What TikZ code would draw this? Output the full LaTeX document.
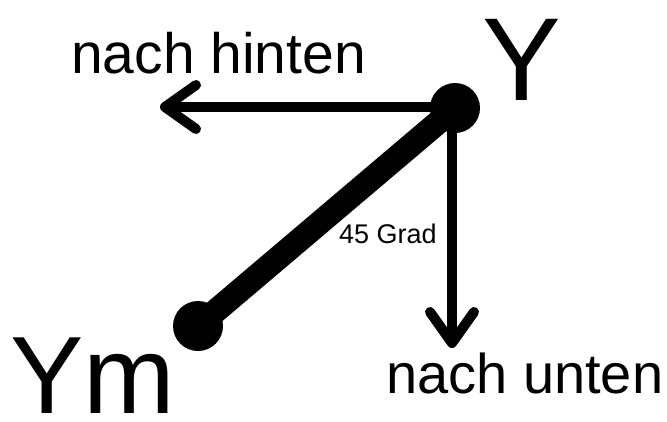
\documentclass[tikz,border=0pt]{standalone}
\usepackage{fontspec}
\setmainfont{Liberation Sans}
\usetikzlibrary{arrows.meta}

\begin{document}
\begin{tikzpicture}[
    x=1pt, y=-1pt,
    % dots at the two ends of the bar
    joint/.style={circle, fill=black, inner sep=0pt, minimum size=50pt},
    bar/.style={line width=24pt},
    dirarrow/.style={line width=10pt, -{Straight Barb[round, length=31pt, width=44pt]}},
    biglabel/.style={anchor=base west, inner sep=0pt, font=\fontsize{118}{120}\selectfont},
    dirlabel/.style={anchor=base west, inner sep=0pt, font=\fontsize{57}{60}\selectfont},
    anglelabel/.style={anchor=base west, inner sep=0pt, font=\fontsize{27}{30}\selectfont}
]
\useasboundingbox (0,0) rectangle (667,421);

% --- Nodes ---
\coordinate (Ypos) at (455,108);
\coordinate (Ympos) at (198,326);
\coordinate (backEnd) at (160,107);
\coordinate (downEnd) at (452,348);

\node [biglabel] (Ylabel) at (482,100) {Y};
\node [biglabel, font=\fontsize{110}{120}\selectfont] (Ymlabel) at (10,413) {Ym};
\node [dirlabel] (back) at (71,73) {nach hinten};
\node [dirlabel, font=\fontsize{56}{60}\selectfont] (down) at (386,393) {nach unten};
\node [anglelabel] (angle) at (339,243) {45 Grad};

% --- Arrows ---
\draw [dirarrow] (Ypos |- backEnd) -- (backEnd);
\draw [dirarrow] (downEnd |- Ypos) -- (downEnd);
\draw [bar] (Ypos) -- (Ympos);

\node [joint] (Ydot) at (Ypos) {};
\node [joint] (Ymdot) at (Ympos) {};

\end{tikzpicture}
\end{document}
